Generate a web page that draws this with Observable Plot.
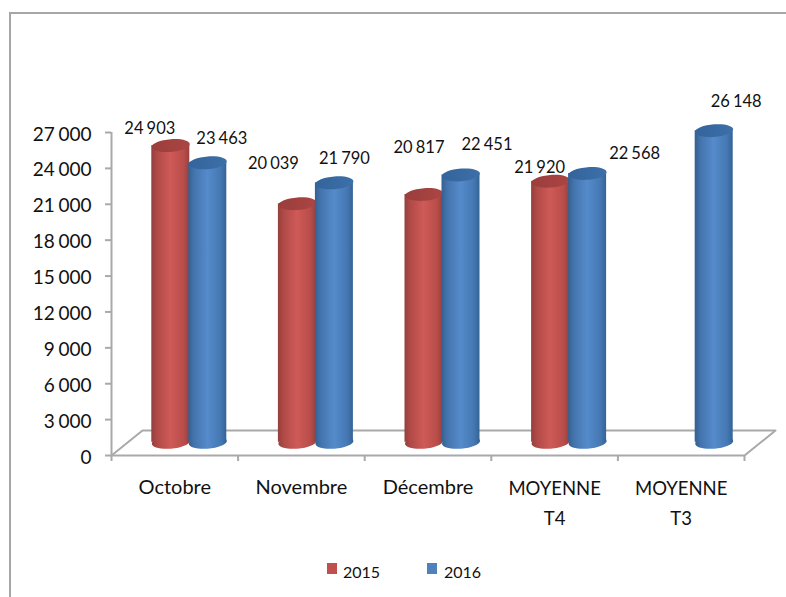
<!DOCTYPE html>
<html>
<head>
<meta charset="utf-8">
<script src="https://cdn.jsdelivr.net/npm/d3@7"></script>
<script src="https://cdn.jsdelivr.net/npm/@observablehq/plot@0.6"></script>
<style>
  html, body { margin: 0; padding: 0; background: #fff; overflow: hidden; }
  #page { position: relative; width: 786px; height: 597px; font-family: Lato, sans-serif; color: #111; }
  #frame { position: absolute; left: 9px; top: 12px; right: 0; bottom: 0; border-left: 2px solid #a6a6a6; border-top: 2px solid #a6a6a6; }
  #chart { position: absolute; left: 0; top: 0; }
  #legend { position: absolute; top: 558px; left: 0; width: 786px; height: 30px; font-size: 16px; }
  #legend span { position: absolute; }
  #legend i { position: absolute; width: 10px; height: 11px; }
</style>
</head>
<body>
<div id="page">
  <div id="frame"></div>
  <div id="chart"></div>
  <div id="legend">
    <i style="left:327px;top:5px;background:#c0504d"></i><span style="left:343px;top:4px">2015</span>
    <i style="left:427px;top:5px;background:#4f81bd"></i><span style="left:444px;top:4px">2016</span>
  </div>
</div>
<script>
const categories = ["Octobre", "Novembre", "Décembre", "MOYENNE\nT4", "MOYENNE\nT3"];
const values2015 = [24903, 20039, 20817, 21920, null];
const values2016 = [23463, 21790, 22451, 22568, 26148];
const yTicks = [0, 3000, 6000, 9000, 12000, 15000, 18000, 21000, 24000, 27000];

// Nudges of each value label from its bar, in pixels: [dx, dy]
const labelNudge2015 = [[-21, -29], [-24, -52], [-5, -59], [-11, -26], [0, 0]];
const labelNudge2016 = [[14, -36], [10, -36], [26, -42], [47, -32], [22, -41]];

const fmt = v => d3.format(",")(v).replace(/,/g, "\u2009\u200a");

const series = [
  {name: "2015", values: values2015, nudge: labelNudge2015, dx: -4, body: "url(#bodyRed)", cap: "url(#capRed)"},
  {name: "2016", values: values2016, nudge: labelNudge2016, dx: 33, body: "url(#bodyBlue)", cap: "url(#capBlue)"}
];
const rows = s => s.values.flatMap((v, i) => v == null ? [] : [{i, v, nudge: s.nudge[i]}]);

const halfBar = 19 / 126.6;
const lift = -12;                 // bars stand in the middle of the floor's depth
const baseY = 100;
const floorX = 31 / 126.6, floorY = 2083;

// Slightly tilted flat ellipse used for the cylinder's ends
const ellipse = {
  draw(ctx, size) {
    const rx = Math.sqrt(size / Math.PI), ry = rx / 3, t = 0.07, k = 0.5523;
    const p = (x, y) => [x, y - x * t];
    ctx.moveTo(...p(-rx, 0));
    ctx.bezierCurveTo(...p(-rx, -k * ry), ...p(-k * rx, -ry), ...p(0, -ry));
    ctx.bezierCurveTo(...p(k * rx, -ry), ...p(rx, -k * ry), ...p(rx, 0));
    ctx.bezierCurveTo(...p(rx, k * ry), ...p(k * rx, ry), ...p(0, ry));
    ctx.bezierCurveTo(...p(-k * rx, ry), ...p(-rx, k * ry), ...p(-rx, 0));
    ctx.closePath();
  }
};

function gradients() {
  const make = (id, stops) => `<linearGradient id="${id}" x1="0" x2="1" y1="0" y2="0">` +
    stops.map(([o, c]) => `<stop offset="${o}" stop-color="${c}"/>`).join("") + `</linearGradient>`;
  const g = document.createElementNS("http://www.w3.org/2000/svg", "g");
  g.innerHTML = "<defs>" +
    make("bodyRed", [[0, "#943f3d"], [0.15, "#b04a47"], [0.5, "#cf5a57"], [0.85, "#b84d4a"], [1, "#98403e"]]) +
    make("bodyBlue", [[0, "#33608f"], [0.15, "#4474ad"], [0.5, "#558bcb"], [0.85, "#4578b3"], [1, "#346394"]]) +
    make("capRed", [[0, "#9a3e3c"], [1, "#ab4543"]]) +
    make("capBlue", [[0, "#33649c"], [1, "#3d6fa8"]]) +
    "</defs>";
  return g;
}

const axisColor = "#a9a9a9";
const floorOutline = [[0, 0], [floorX, floorY], [5 + floorX, floorY], [5, 0]];
const isLong = d => d.includes("\n");

const plot = Plot.plot({
  width: 786,
  height: 545,
  marginTop: 132,
  marginBottom: 90,
  marginLeft: 111,
  marginRight: 42,
  style: {fontFamily: "Lato, sans-serif", background: "transparent", overflow: "visible"},
  x: {type: "linear", domain: [0, 5], axis: null},
  y: {type: "linear", domain: [0, 27000], axis: null},
  marks: [
    gradients,
    Plot.line(floorOutline, {x: d => d[0], y: d => d[1], stroke: axisColor, strokeWidth: 2}),
    Plot.ruleY([0], {x1: 0, x2: 5, stroke: axisColor, strokeWidth: 2}),
    Plot.ruleX([0], {y1: 0, y2: 27000, stroke: axisColor, strokeWidth: 2}),
    Plot.axisY({ticks: yTicks, tickSize: 6, fill: "none", stroke: axisColor, strokeWidth: 2, label: null}),
    Plot.axisY({ticks: yTicks, tickSize: 0, tickPadding: 20, tickFormat: fmt, fontSize: 19,
      fill: "#111", dy: 2, label: null}),
    Plot.ruleX([0, 1, 2, 3, 4, 5], {y1: 0, y2: -500, stroke: axisColor, strokeWidth: 2}),
    Plot.text(categories, {filter: d => !isLong(d), x: (d, i) => i + 0.5, y: 0, text: d => d, dy: 17, lineAnchor: "top",
      fontSize: 20, lineHeight: 1.5, fill: "#111"}),
    Plot.text(categories, {filter: isLong, x: (d, i) => i + 0.5, y: 0, text: d => d, dy: 18, lineAnchor: "top",
      fontSize: 18.5, lineHeight: 1.62, fill: "#111"}),
    ...series.flatMap(s => {
      const data = rows(s);
      return [
        Plot.dot(data, {x: d => d.i + 0.5, y: baseY, dx: s.dx, dy: lift, r: 19, symbol: ellipse, fill: s.body, stroke: "none"}),
        Plot.rectY(data, {x1: d => d.i + 0.5 - halfBar, x2: d => d.i + 0.5 + halfBar, y1: baseY, y2: d => d.v, dx: s.dx, dy: lift, fill: s.body}),
        Plot.dot(data, {x: d => d.i + 0.5, y: d => d.v, dx: s.dx, dy: lift, r: 19, symbol: ellipse, fill: s.cap, stroke: "none"})
      ];
    }),
    ...series.flatMap(s => rows(s).map(d =>
      Plot.text([d], {x: d.i + 0.5, y: d.v, text: r => fmt(r.v), dx: s.dx + d.nudge[0], dy: d.nudge[1], fontSize: 16.5, fill: "#111"})
    ))
  ]
});
document.getElementById("chart").append(plot);
</script>
</body>
</html>
